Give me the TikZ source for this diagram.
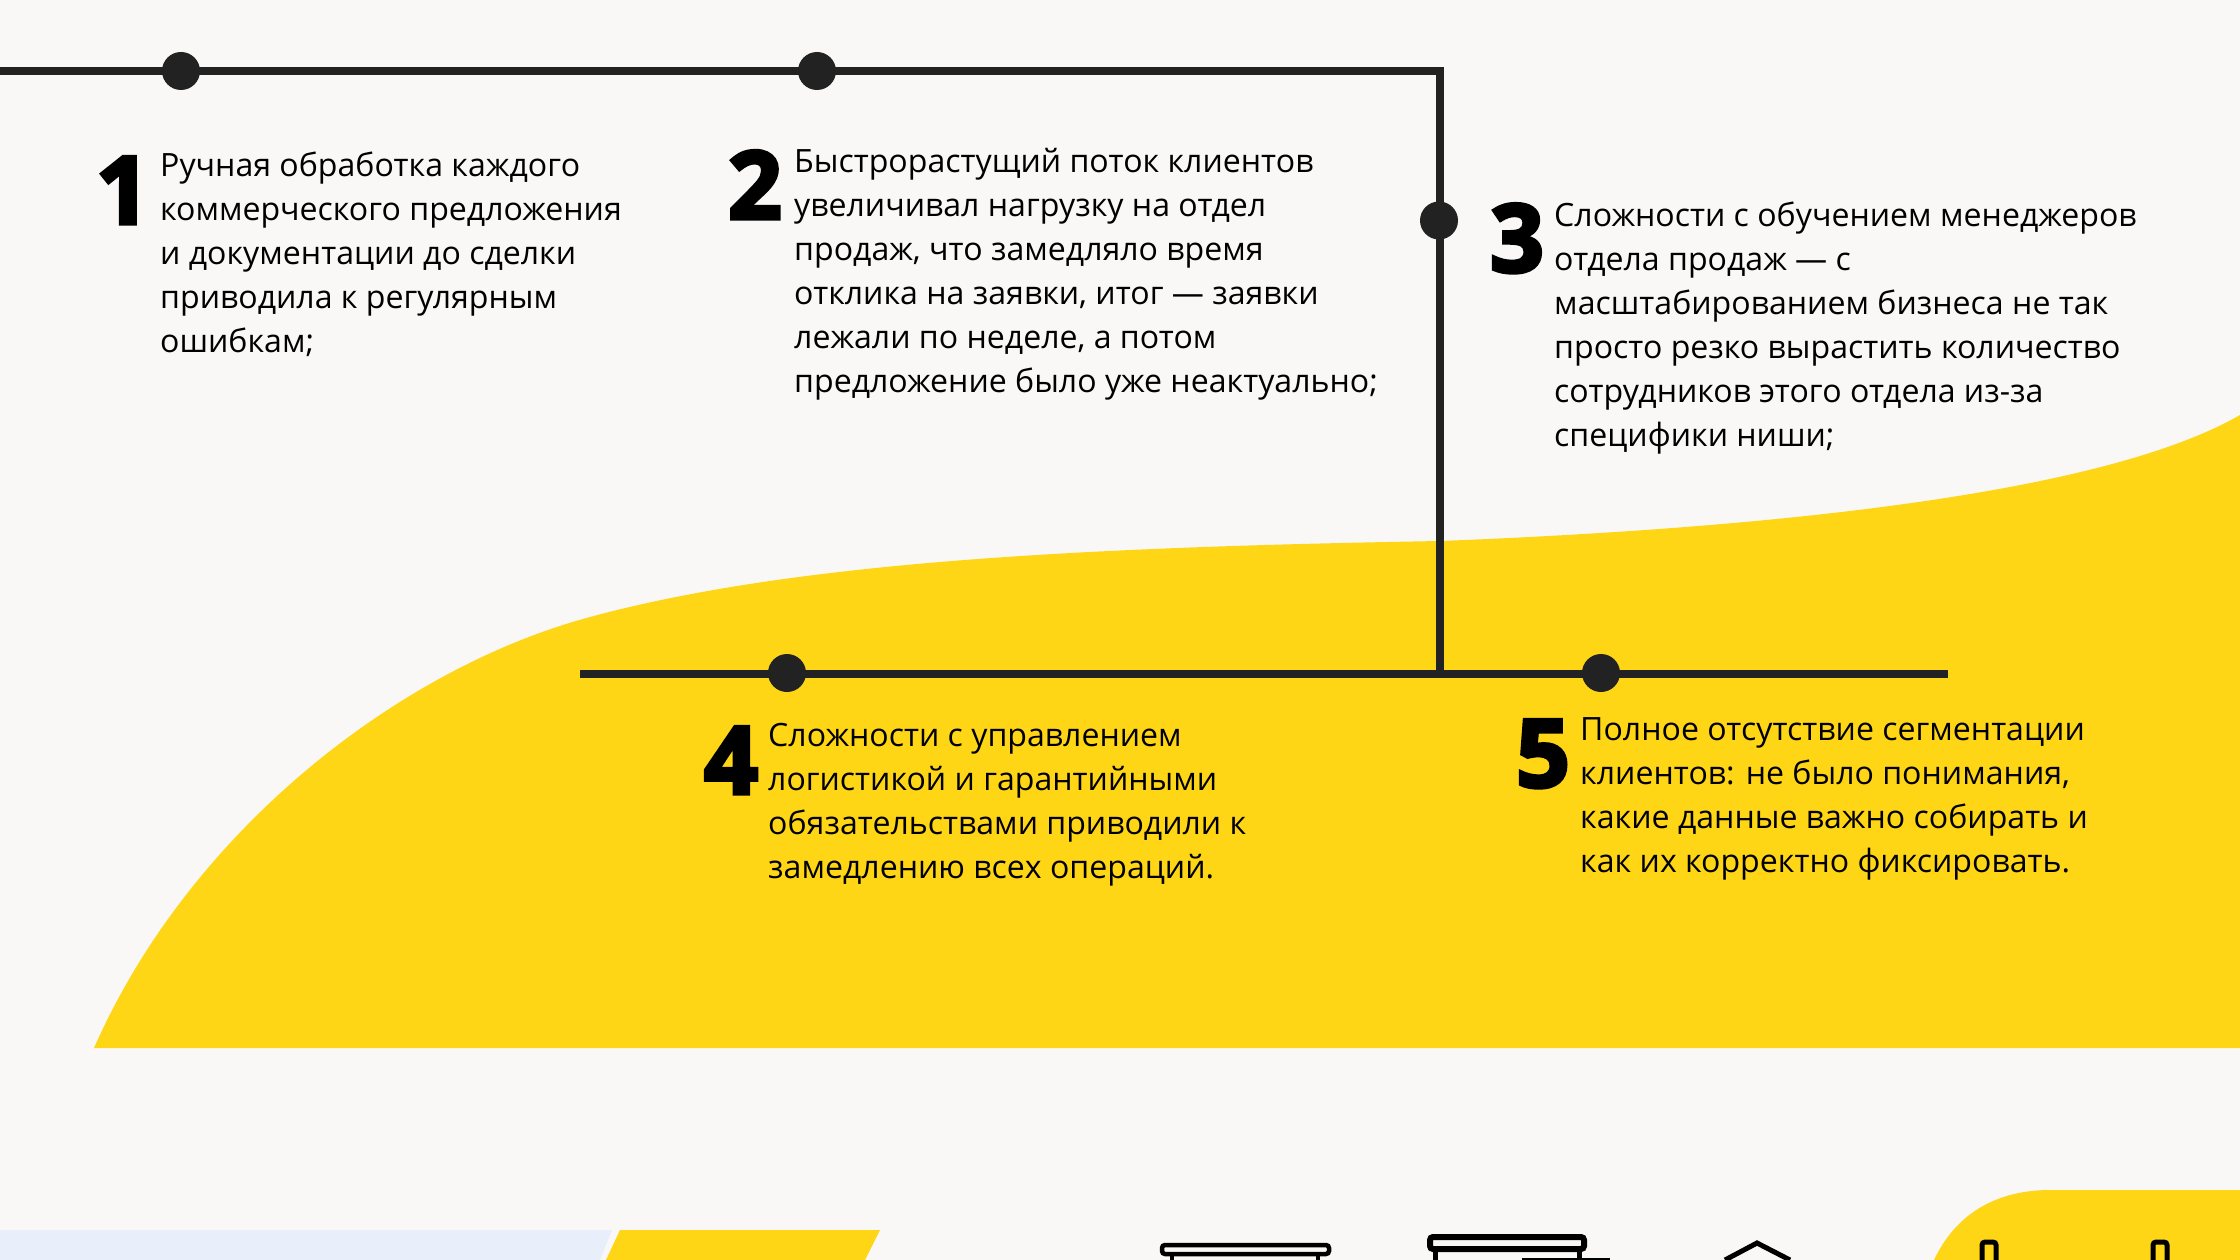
\documentclass[tikz,border=0pt]{standalone}
\usepackage{fontspec}
\setmainfont{Open Sans}
\newfontfamily\digitfont{Open Sans}[BoldFeatures={FakeBold=4}]
\definecolor{bgc}{HTML}{F9F8F6}
\definecolor{yel}{HTML}{FFD616}
\definecolor{ink}{HTML}{222222}
\definecolor{pale}{HTML}{E9EEFB}
\tikzset{
 x=1pt,y=-1pt,
 line/.style={draw=ink,line width=8pt},
 dot/.style={circle,fill=ink,minimum size=38pt,inner sep=0pt},
 body/.style={anchor=north west,align=left,inner sep=0pt,font=\fontsize{32.08}{44}\selectfont,text=black},
 num/.style={anchor=south,inner sep=0pt,font=\digitfont\bfseries\fontsize{94}{94}\selectfont,text=black},
 icon/.style={draw=black,line width=4.5pt,rounded corners=3pt}
}
\begin{document}
\begin{tikzpicture}
\useasboundingbox (0,0) rectangle (2240,1260);
\fill[bgc] (0,0) rectangle (2240,1260);
\fill[yel] (94,1048) .. controls (190,830) and (400,668) .. (590,617) .. controls (800,560) and (1100,547) .. (1440,541) .. controls (1800,527) and (2110,490) .. (2240,415) -- (2240,1048) -- cycle;
\fill[pale] (0,1230) -- (612,1230) -- (600,1260) -- (0,1260) -- cycle;
\fill[yel] (620,1230) -- (880,1230) -- (865,1260) -- (606,1260) -- cycle;
\fill[yel] (1934,1260) .. controls (1955,1215) and (1995,1190) .. (2050,1190) -- (2240,1190) -- (2240,1260) -- cycle;
\draw[icon] (1162,1245) rectangle (1329,1254);
\draw[icon] (1172,1254) -- (1172,1260) (1318,1254) -- (1318,1260);
\draw[icon,line width=6pt] (1430,1237) rectangle (1584,1249);
\draw[icon,line width=5pt,rounded corners=0pt] (1435,1250) -- (1435,1260) (1579,1250) -- (1579,1260);
\draw[icon,line width=4pt,rounded corners=2pt] (1522,1260) -- (1610,1260);
\draw[icon,line width=5pt,rounded corners=0pt] (1725,1260) -- (1757,1243) -- (1790,1260);
\draw[icon,line width=5pt] (1982,1260) -- (1982,1242) -- (1996,1242) -- (1996,1260);
\draw[icon,line width=5pt] (2153,1260) -- (2153,1242) -- (2167,1242) -- (2167,1260);
\coordinate (s) at (0,71.5);
\coordinate (c) at (1440,71.5);
\coordinate (j) at (1440,673.5);
\coordinate (l) at (580,673.5);
\coordinate (r) at (1948,673.5);
\draw[line] (s) -- (c) -- (j);
\draw[line] (l) -- (r);
\node[dot] (d1) at (181,71) {};
\node[dot] (d2) at (817,71) {};
\node[dot] (d3) at (1439,220.5) {};
\node[dot] (d4) at (787,673) {};
\node[dot] (d5) at (1601,673) {};
\node[num] (n1) at (123,224) {1};
\node[num] (n2) at (755,219) {2};
\node[num] (n3) at (1517,273) {3};
\node[num] (n4) at (731,794) {4};
\node[num] (n5) at (1543,788) {5};
\node[body] (t1) at (160,152) {Ручная обработка каждого\\коммерческого предложения\\и документации до сделки\\приводила к регулярным\\ошибкам;};
\node[body] (t2) at (794,148) {Быстрорастущий поток клиентов\\увеличивал нагрузку на отдел\\продаж, что замедляло время\\отклика на заявки, итог — заявки\\лежали по неделе, а потом\\предложение было уже неактуально;};
\node[body] (t3) at (1554,202) {Сложности с обучением менеджеров\\отдела продаж — с\\масштабированием бизнеса не так\\просто резко вырастить количество\\сотрудников этого отдела из-за\\специфики ниши;};
\node[body] (t4) at (768,723) {Сложности с управлением\\логистикой и гарантийными\\обязательствами приводили к\\замедлению всех операций.};
\node[body] (t5) at (1580,717) {Полное отсутствие сегментации\\клиентов: не было понимания,\\какие данные важно собирать и\\как их корректно фиксировать.};
\end{tikzpicture}
\end{document}
